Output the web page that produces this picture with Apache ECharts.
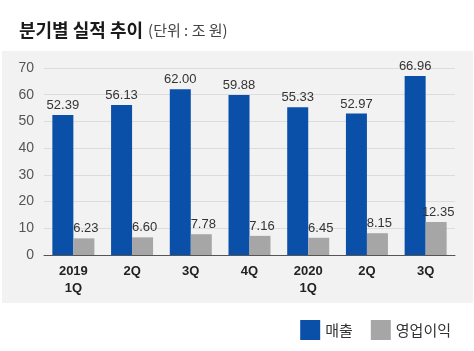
<!DOCTYPE html>
<html>
<head>
<meta charset="utf-8">
<script src="https://cdn.jsdelivr.net/npm/echarts@6/dist/echarts.min.js"></script>
<style>
  html, body { margin: 0; padding: 0; background: #fff; }
  #chart { width: 474px; height: 351px; }
</style>
</head>
<body>
<div id="chart"></div>
<script>
  const categories = ['2019\n1Q', '2Q', '3Q', '4Q', '2020\n1Q', '2Q', '3Q']
  const sales = [52.39, 56.13, 62.00, 59.88, 55.33, 52.97, 66.96]
  const profit = [6.23, 6.60, 7.78, 7.16, 6.45, 8.15, 12.35]
  const yTicks = { min: 0, max: 70, interval: 10 }

  const numFont = '"Liberation Sans", Arial, sans-serif'
  const krFont = '"Noto Sans CJK KR", sans-serif'

  const chart = echarts.init(document.getElementById('chart'))

  const valueLabel = (dx) => ({
    show: true,
    position: 'top',
    distance: 3,
    offset: [dx, 0],
    formatter: p => p.value.toFixed(2),
    fontSize: 13,
    color: '#333',
    fontFamily: numFont
  })

  chart.setOption({
    backgroundColor: '#fff',
    animation: false,
    graphic: [
      {
        type: 'rect',
        z: -10,
        shape: { x: 2, y: 51, width: 471, height: 252 },
        style: { fill: '#f2f2f2' },
        silent: true
      }
    ],
    title: {
      left: 14,
      top: 16,
      text: '{a|분기별 실적 추이} {b|(단위 : 조 원)}',
      textStyle: {
        rich: {
          a: { fontSize: 18, fontWeight: 'bold', color: '#1a1a1a', fontFamily: krFont },
          b: { fontSize: 15, fontWeight: 'normal', color: '#444', fontFamily: krFont }
        }
      }
    },
    legend: {
      right: 18,
      top: 315,
      icon: 'rect',
      itemWidth: 20,
      itemHeight: 20,
      itemGap: 18,
      textStyle: { fontSize: 15, color: '#333', fontFamily: krFont },
      data: ['매출', '영업이익']
    },
    grid: { left: 44, right: 19, top: 68, bottom: 96 },
    xAxis: {
      type: 'category',
      data: categories,
      axisLine: { lineStyle: { color: '#555', width: 1 } },
      axisTick: { show: false },
      axisLabel: {
        fontSize: 13,
        fontWeight: 'bold',
        color: '#222',
        lineHeight: 17,
        margin: 8,
        fontFamily: numFont
      }
    },
    yAxis: {
      type: 'value',
      min: yTicks.min,
      max: yTicks.max,
      interval: yTicks.interval,
      axisLine: { show: false },
      axisTick: { show: false },
      axisLabel: { fontSize: 14, color: '#555', margin: 10, fontFamily: numFont },
      splitLine: { lineStyle: { color: '#dcdcdc', width: 1 } }
    },
    series: [
      {
        name: '매출',
        type: 'bar',
        z: 2,
        data: sales,
        barWidth: 21,
        barGap: '0%',
        itemStyle: { color: '#0a4fa8' },
        label: valueLabel(0)
      },
      {
        name: '영업이익',
        type: 'bar',
        z: 3,
        data: profit,
        barWidth: 21,
        itemStyle: { color: '#a6a6a6' },
        label: valueLabel(2)
      }
    ]
  })
</script>
</body>
</html>
